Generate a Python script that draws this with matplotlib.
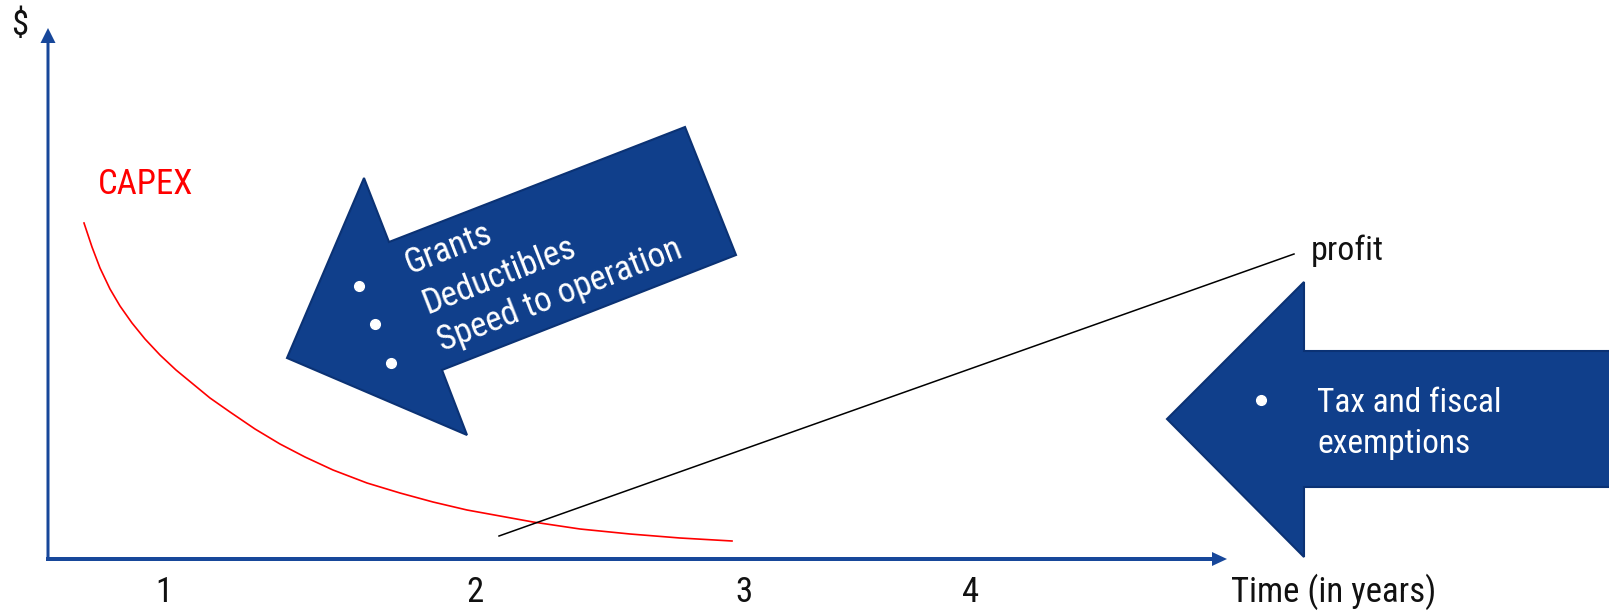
import matplotlib
matplotlib.use("Agg")
import matplotlib.pyplot as plt
from matplotlib import font_manager
from matplotlib.patches import Polygon, FancyArrow

# pick a narrow sans if one is installed
installed = {f.name for f in font_manager.fontManager.ttflist}
families = [f for f in ["Liberation Sans Narrow", "Roboto Condensed", "Liberation Sans"] if f in installed]
plt.rcParams["font.family"] = families + ["DejaVu Sans"]

W, H = 1609, 612
BLUE = "#103f8b"
BLUE_EDGE = "#0b3274"
AXIS_BLUE = "#17479a"

# CAPEX cost curve (pixel space, y grows downward)
capex_x = [84, 92, 100, 110, 120, 132, 145, 160, 176, 193, 210, 230, 255, 280, 305, 333,
           367, 400, 433, 467, 500, 533, 580, 630, 680, 732]
capex_y = [223, 247, 268, 289, 306, 323, 339, 355, 370, 384, 398, 412, 429, 444, 457, 470,
           483, 493, 502, 510, 516, 522, 529, 534, 538, 541]

# profit line
profit_x = [499, 1294]
profit_y = [536, 254]

time_ticks = ["1", "2", "3", "4"]
tick_x = [164, 475, 744, 971]

left_arrow_items = ["Grants", "Deductibles", "Speed to operation"]
right_arrow_items = ["Tax and fiscal", "exemptions"]

fig = plt.figure(figsize=(W / 100, H / 100), dpi=100)
ax = fig.add_axes([0, 0, 1, 1])
ax.set_xlim(0, W)
ax.set_ylim(H, 0)
ax.axis("off")

# axes drawn as arrows
ax.add_patch(FancyArrow(48, 557, 0, -514, width=3, head_width=15, head_length=15,
                        length_includes_head=False, color=AXIS_BLUE, lw=0))
ax.add_patch(FancyArrow(46, 559, 1166, 0, width=4, head_width=14, head_length=15,
                        length_includes_head=False, color=AXIS_BLUE, lw=0))

ax.text(20, 26, "$", fontsize=25, ha="center", va="center", color="#111111")
for lbl, x in zip(time_ticks, tick_x):
    ax.text(x, 593, lbl, fontsize=25, ha="center", va="center", color="#111111")
ax.text(1231, 592, "Time (in years)", fontsize=25, ha="left", va="center", color="#111111")

ax.plot(capex_x, capex_y, color="red", lw=1.2, zorder=3, solid_joinstyle="round")
ax.text(98, 185, "CAPEX", fontsize=25, ha="left", va="center", color="red")

ax.plot(profit_x, profit_y, color="black", lw=1.1, zorder=3)
ax.text(1311, 260, "profit", fontsize=24.5, ha="left", va="baseline", color="#111111")

# tilted arrow pointing down-left
left_arrow = [(685, 127), (736, 255), (442, 370), (467, 435), (287, 358), (364, 178), (389, 242)]
ax.add_patch(Polygon(left_arrow, closed=True, fc=BLUE, ec=BLUE_EDGE, lw=1.5, zorder=2))
angle = 21.4
text_pos = [(410, 274), (427, 314), (442, 351)]
bullet_pos = [(359, 286), (375, 324), (391, 363)]
for item, (tx, ty), (bx, by) in zip(left_arrow_items, text_pos, bullet_pos):
    ax.text(tx, ty, item, fontsize=25, color="white", rotation=angle,
            rotation_mode="anchor", ha="left", va="baseline", zorder=4)
    ax.plot(bx, by, "o", ms=7, color="white", zorder=4)

# horizontal arrow pointing left
right_arrow = [(1167, 419), (1304, 282), (1304, 351), (1615, 351), (1615, 487),
               (1304, 487), (1304, 557)]
ax.add_patch(Polygon(right_arrow, closed=True, fc=BLUE, ec=BLUE_EDGE, lw=1.5, zorder=2))
ax.plot(1261, 400, "o", ms=7, color="white", zorder=4)
for i, item in enumerate(right_arrow_items):
    ax.text(1317, 412 + 41 * i, item, fontsize=24, color="white",
            ha="left", va="baseline", zorder=4)

fig.savefig("out.png", dpi=100)
